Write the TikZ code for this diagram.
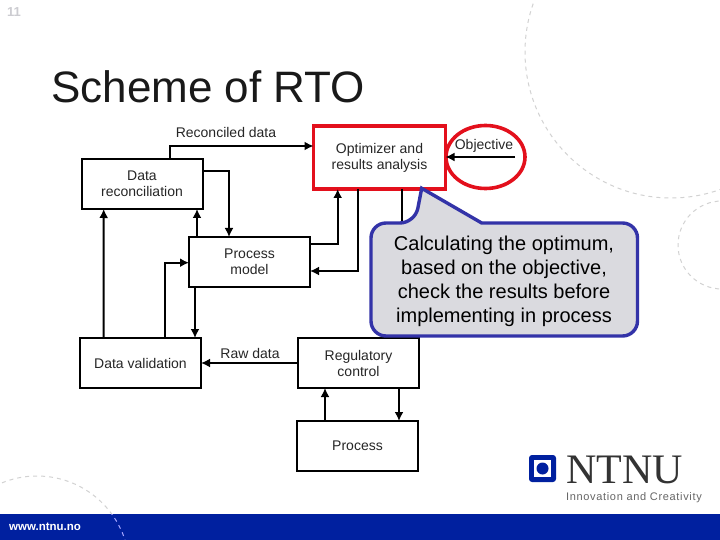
\documentclass[tikz,border=0pt]{standalone}
\usepackage{fontspec}
\usepackage{xcolor}
\usetikzlibrary{arrows.meta,calc}
\setmainfont{Liberation Sans}
\newfontfamily\logofont{Liberation Serif}
\newfontfamily\sloganfont[LetterSpace=6]{Liberation Sans}
\definecolor{ntnublue}{HTML}{00209F}
\definecolor{markred}{HTML}{E3101C}
\definecolor{noteblue}{HTML}{3333A8}
\definecolor{notegray}{HTML}{DADADF}
\definecolor{dashgray}{HTML}{D2D2D2}
\tikzset{
  blockbox/.style={draw=black, line width=2pt, minimum width=121pt, minimum height=50pt, inner sep=0pt, outer sep=0pt, align=center, text=black!85, font=\fontsize{14}{16}\selectfont},
  markbox/.style={blockbox, draw=markred, line width=3.6pt, minimum width=132pt, minimum height=63pt},
  flowlabel/.style={inner sep=0pt, text=black!85, font=\fontsize{14}{16}\selectfont},
  flowline/.style={line width=2pt, -{Latex[length=9pt,width=9pt]}},
  plainline/.style={line width=2pt},
  dashring/.style={draw=dashgray, line width=1pt, dash pattern=on 4pt off 4pt}
}
\begin{document}
\begin{tikzpicture}[x=1pt, y=-1pt]
  \useasboundingbox (0,0) rectangle (720,540);
  \fill[white] (0,0) rectangle (720,540);
  \begin{scope}
    \clip (0,0) rectangle (720,540);
    \draw[dashring] (671,52) circle (146);
    \draw[dashring] (722,245) circle (44);
    \draw[dashring] (37,568.5) circle (92.5);
    \fill[ntnublue] (0,514) rectangle (720,540);
    \clip (0,514) rectangle (720,540);
    \draw[dashring, draw=blue!35!white] (37,568.5) circle (92.5);
  \end{scope}
  \node[anchor=base west, inner sep=0pt, text=blue!10!black!20, font=\bfseries\fontsize{13}{13}\selectfont] (pagenum) at (7,17) {11};
  \node[anchor=base west, inner sep=0pt, text=black!90, font=\fontsize{44}{44}\selectfont] (title) at (51,103) {Scheme of RTO};

  \node[blockbox] (datarecon) at (142,184) {Data\\reconciliation};
  \node[blockbox] (procmodel) at (249.5,262) {Process\\model};
  \node[blockbox] (dataval) at (140.5,363) {Data validation};
  \node[blockbox] (regctrl) at (358.5,363) {Regulatory\\control};
  \node[blockbox] (process) at (357.5,446) {Process};
  \node[markbox] (optimizer) at (379.5,157.5) {Optimizer and\\results analysis};
  \draw[markred, line width=3.6pt] (485.5,157) ellipse (39.5 and 31.5);
  \coordinate (objstart) at (515,157);
  \node[flowlabel] (objlabel) at (484,146) {Objective};
  \node[flowlabel] (reconlabel) at (226,132) {Reconciled data};
  \node[flowlabel] (rawlabel) at (250,353) {Raw data};

  \draw[flowline] (objstart) -- (optimizer.east |- objstart);
  \draw[flowline] ([xshift=28pt]datarecon.north) |- ([yshift=11.5pt]optimizer.west);
  \draw[flowline] ([yshift=13pt]datarecon.east) -| ([xshift=-20.5pt]procmodel.north);
  \draw[flowline] ([xshift=-52.5pt]procmodel.north) -- ([xshift=55pt]datarecon.south);
  \draw[flowline] ([xshift=-37pt]dataval.north) -- ([xshift=-38.3pt]datarecon.south);
  \draw[flowline] ([xshift=24.5pt]dataval.north) |- ([yshift=-0.7pt]procmodel.west);
  \draw[flowline] ([xshift=-54.5pt]procmodel.south) -- ([xshift=54.5pt]dataval.north);
  \draw[flowline] ([yshift=18pt]procmodel.east) -| ([xshift=-41.8pt]optimizer.south);
  \draw[flowline] ([xshift=-21.5pt]optimizer.south) |- ([yshift=-9pt]procmodel.east);
  \draw[plainline] ([xshift=22.2pt]optimizer.south) -- ([xshift=43.2pt]regctrl.north);
  \draw[flowline] (regctrl.west) -- (dataval.east);
  \draw[flowline] ([xshift=40.5pt]regctrl.south) -- ([xshift=41.5pt]process.north);
  \draw[flowline] ([xshift=-32.5pt]process.north) -- ([xshift=-33.5pt]regctrl.south);

  \draw[draw=noteblue, fill=notegray, line width=3.4pt] (415,223) [sharp corners] -- (421.7,188.3) -- (481.7,223)
    [rounded corners=15pt] -- (637.5,223) -- (637.5,336) -- (371,336) -- (371,223) -- cycle;
  \node[inner sep=0pt, align=center, text=black, font=\fontsize{20}{24}\selectfont] (notetext) at (504,281) {Calculating the optimum,\\based on the objective,\\check the results before\\implementing in process};

  \node[fill=ntnublue, rounded corners=3pt, minimum size=27pt, inner sep=0pt] (logobox) at (542.5,468.5) {};
  \node[fill=white, minimum size=17pt, inner sep=0pt] (logoinner) at (logobox) {};
  \node[fill=ntnublue, circle, minimum size=12pt, inner sep=0pt] (logodot) at (logobox) {};
  \node[anchor=base west, inner sep=0pt, text=black!80, font=\logofont\fontsize{42}{42}\selectfont] (logotext) at (566,483) {NTNU};
  \node[anchor=base west, inner sep=0pt, text=black!60, font=\sloganfont\fontsize{11}{11}\selectfont] (slogan) at (566,500) {Innovation and Creativity};
  \node[anchor=base west, inner sep=0pt, text=white, font=\bfseries\fontsize{11.5}{11.5}\selectfont] (weblink) at (9,530) {www.ntnu.no};
\end{tikzpicture}
\end{document}
